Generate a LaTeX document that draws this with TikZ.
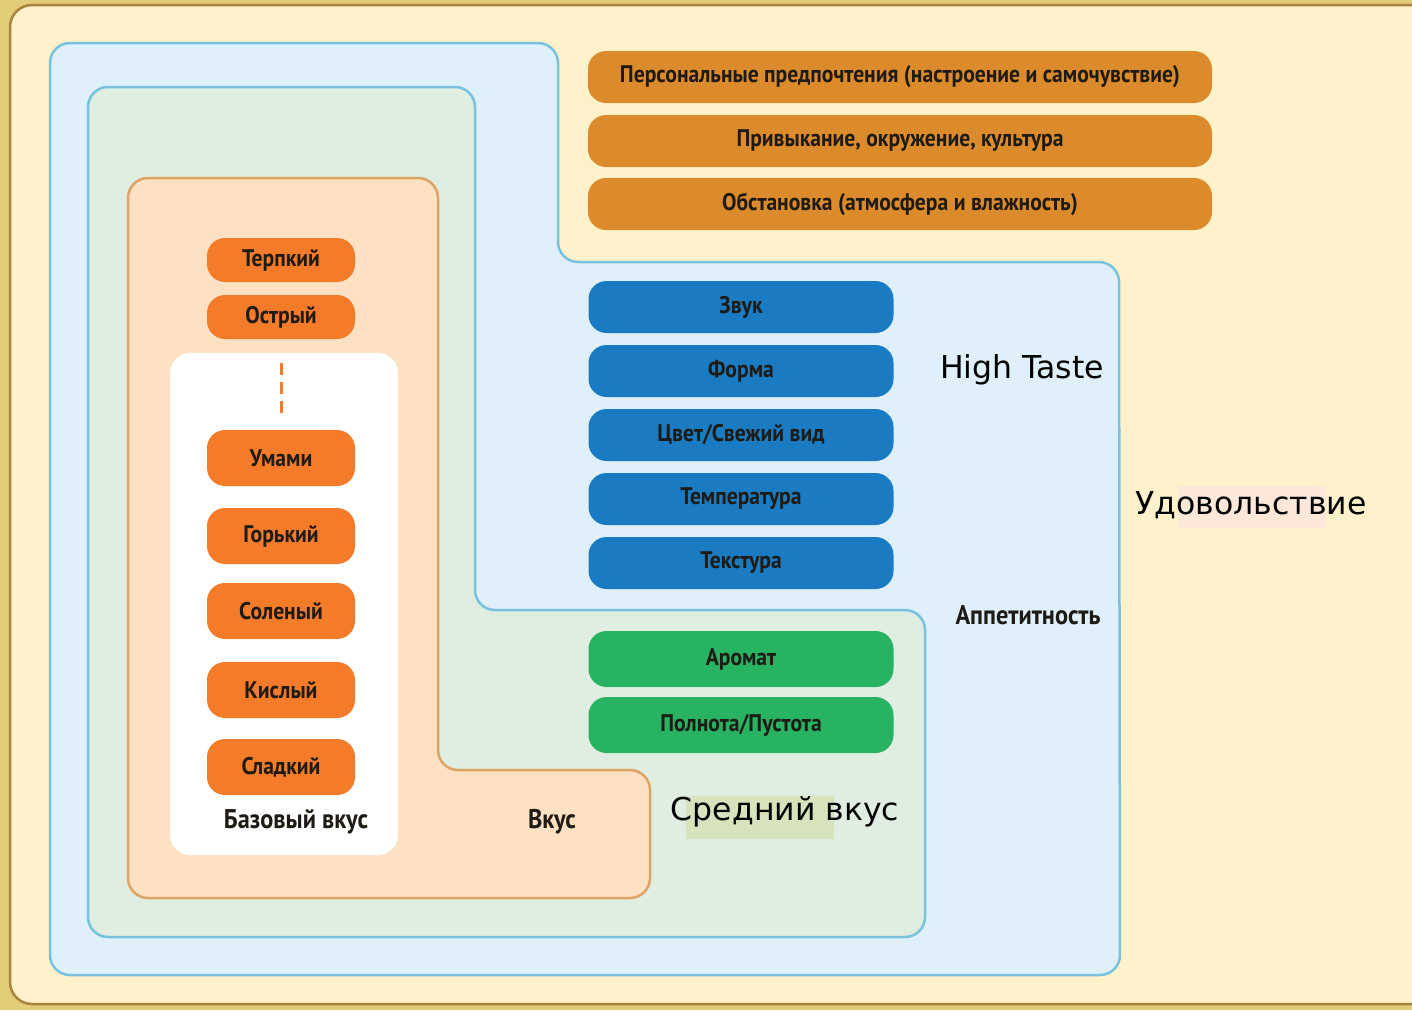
\documentclass[tikz,border=0pt]{standalone}
\usepackage{fontspec}
\setmainfont{DejaVu Sans}
\newfontfamily\pillfont[FakeStretch=0.9]{PT Sans}
\usepackage{xcolor}
\usepackage{tikz}
\usetikzlibrary{positioning}
\definecolor{frameGold}{HTML}{E2CC78}
\definecolor{creamBg}{HTML}{FFF2CB}
\definecolor{creamLine}{HTML}{A8823E}
\definecolor{skyFill}{HTML}{DFF0FA}
\definecolor{skyLine}{HTML}{78C2DE}
\definecolor{mintFill}{HTML}{E0EEE1}
\definecolor{peachFill}{HTML}{FDE1C2}
\definecolor{peachLine}{HTML}{DFA366}
\definecolor{basicOrange}{HTML}{F47B2A}
\definecolor{outerAmber}{HTML}{DB8B2C}
\definecolor{senseBlue}{HTML}{1A7BC3}
\definecolor{smellGreen}{HTML}{27B361}
\definecolor{pinkMark}{HTML}{FCE7D9}
\definecolor{oliveMark}{HTML}{D6E3BD}
\definecolor{textDark}{HTML}{1E1A14}
\tikzset{
    region/.style={rounded corners=20pt, line width=2.5pt},
    pill/.style={rectangle, rounded corners=18pt, align=center, text=textDark, inner sep=0pt, font=\pillfont\bfseries\fontsize{24}{28}\selectfont},
    basic/.style={pill, fill=basicOrange, minimum width=148pt, minimum height=56pt},
    smallbasic/.style={basic, minimum height=44pt},
    sense/.style={pill, fill=senseBlue, minimum width=305pt, minimum height=52pt},
    smell/.style={pill, fill=smellGreen, minimum width=305pt, minimum height=56pt},
    context/.style={pill, fill=outerAmber, minimum width=624pt, minimum height=52pt},
    tag/.style={text=textDark, font=\pillfont\bfseries\fontsize{27}{31}\selectfont},
    bigtag/.style={text=black, font=\fontsize{31.5}{36}\selectfont, inner sep=0pt}
}
\begin{document}
\begin{tikzpicture}[x=1pt, y=-1pt]
    % Frame
    \fill[frameGold] (0,0) rectangle (1412,1010);
    \useasboundingbox (0,0) rectangle (1412,1010);
    \draw[creamLine, fill=creamBg, line width=2.5pt, rounded corners=22pt] (10,5) rectangle (1440,1004);

    % Regions
    \draw[region, draw=skyLine, fill=skyFill] (50,500) -- (50,43) -- (558,43) -- (558,262) -- (1119,262) -- (1120,975) -- (50,975) -- cycle;
    \draw[region, draw=skyLine, fill=mintFill] (88,500) -- (88,87) -- (475,87) -- (475,610) -- (925,610) -- (925,937) -- (88,937) -- cycle;
    \draw[region, draw=peachLine, fill=peachFill] (128,500) -- (128,178) -- (438,178) -- (438,770) -- (650,770) -- (650,898) -- (128,898) -- cycle;
    \fill[white, rounded corners=20pt] (170,353) rectangle (398,855);

    % Basic tastes
    \node[smallbasic] (terpkiy) at (281,260) {Терпкий};
    \node[smallbasic] (ostryy) at (281,317) {Острый};
    \coordinate (dashTop) at (281,363);
    \coordinate (dashBot) at (281,417);
    \draw[basicOrange, line width=3pt, dash pattern=on 12pt off 7pt] (dashTop) -- (dashBot);
    \node[basic] (umami) at (281,458) {Умами};
    \node[basic] (gorkiy) at (281,536) {Горький};
    \node[basic] (solenyy) at (281,611) {Соленый};
    \node[basic] (kislyy) at (281,690) {Кислый};
    \node[basic] (sladkiy) at (281,767) {Сладкий};
    \node[tag] (bazovyy) at (296,822) {Базовый вкус};
    \node[tag] (vkus) at (552,822) {Вкус};

    % Smell
    \node[smell] (aromat) at (741,659) {Аромат};
    \node[smell] (polnota) at (741,725) {Полнота/Пустота};
    \fill[oliveMark] (686,796) rectangle (834,839);
    \node[bigtag] (sredniy) at (785,812) {Средний вкус};

    % Senses
    \node[sense] (zvuk) at (741,307) {Звук};
    \node[sense] (forma) at (741,371) {Форма};
    \node[sense] (tsvet) at (741,435) {Цвет/Свежий вид};
    \node[sense] (temp) at (741,499) {Температура};
    \node[sense] (tekstura) at (741,563) {Текстура};
    \node[bigtag] (high) at (1022,370) {High Taste};
    \node[tag] (appetit) at (1028,615) {Аппетитность};

    % Context
    \node[context] (person) at (900,77) {Персональные предпочтения (настроение и самочувствие)};
    \node[context] (privyk) at (900,141) {Привыкание, окружение, культура};
    \node[context] (obstan) at (900,204) {Обстановка (атмосфера и влажность)};
    \fill[pinkMark] (1178,486) rectangle (1326,528);
    \node[bigtag] (udovol) at (1251,505) {Удовольствие};
\end{tikzpicture}
\end{document}
